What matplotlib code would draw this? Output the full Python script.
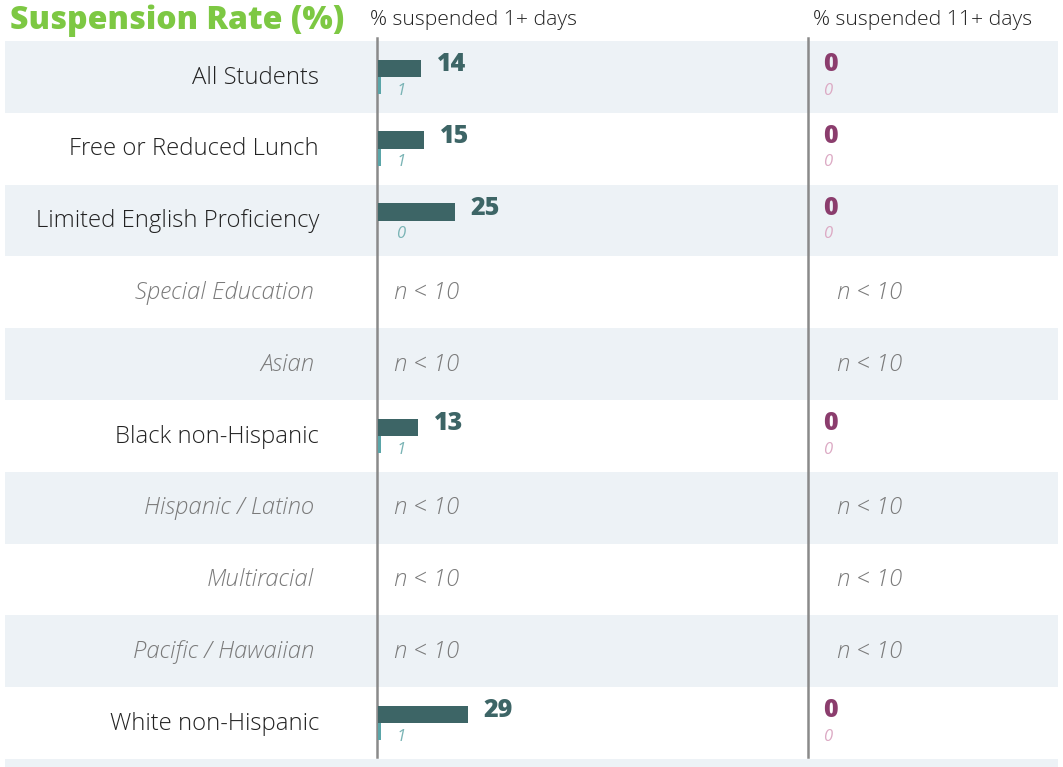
import matplotlib
matplotlib.use("Agg")
import matplotlib.pyplot as plt

# data
categories = ["All Students", "Free or Reduced Lunch", "Limited English Proficiency",
              "Special Education", "Asian", "Black non-Hispanic", "Hispanic / Latino",
              "Multiracial", "Pacific / Hawaiian", "White non-Hispanic"]
rate_1plus = [14, 15, 25, None, None, 13, None, None, None, 29]
small_1plus = [1, 1, 0, None, None, 1, None, None, None, 1]
rate_11plus = [0, 0, 0, None, None, 0, None, None, None, 0]
small_11plus = [0, 0, 0, None, None, 0, None, None, None, 0]

FONT = "Open Sans"
W, H = 1063, 767
TOP = 41          # px where the table starts
ROW_H = 71.8      # px per row
PX_PER_UNIT = 3.08
LABEL_FS = 17.2

BAND = "#edf2f6"
DARK = "#3d6566"
TEAL = "#5aa5a8"
TEAL_TXT = "#7ab4b5"
PURPLE = "#8b3d6d"
PINK = "#dcaac4"
GRAY_TXT = "#7a7a7a"

fig = plt.figure(figsize=(W / 100, H / 100), dpi=100)
fig.patch.set_facecolor("white")

ax_h = (H - TOP) / H
ylim = (-0.5 + (H - TOP) / ROW_H, -0.5)

# background bands + labels
ax_bg = fig.add_axes([0, 0, 1, ax_h])
ax_bg.set_xlim(0, W)
ax_bg.set_ylim(*ylim)
ax_bg.axis("off")
band_rows = [r for r in range(len(categories) + 1) if r % 2 == 0]
ax_bg.barh(band_rows, width=W - 10, left=5, height=1, color=BAND, zorder=0)

for i, cat in enumerate(categories):
    if rate_1plus[i] is None:
        ax_bg.text(314, i + 0.01, cat, ha="right", va="center", fontsize=LABEL_FS,
                   family=FONT, weight=300, style="italic", color=GRAY_TXT)
    else:
        ax_bg.text(319, i + 0.01, cat, ha="right", va="center", fontsize=LABEL_FS,
                   family=FONT, weight=300, color="#222222")

# vertical divider lines
for xline in (377, 808):
    ax_bg.axvline(xline, ymin=(H - 757) / (H - TOP), ymax=(H - 38) / (H - TOP),
                  color="#8a8a8a", lw=1.8, clip_on=False, zorder=3)

# left column: % suspended 1+ days
ax1 = fig.add_axes([378.3 / W, 0, 420 / W, ax_h])
ax1.set_xlim(0, 420 / PX_PER_UNIT)
ax1.set_ylim(*ylim)
ax1.axis("off")
ax1.patch.set_alpha(0)

# right column: % suspended 11+ days
ax2 = fig.add_axes([808 / W, 0, 250 / W, ax_h])
ax2.set_xlim(0, 250 / PX_PER_UNIT)
ax2.set_ylim(*ylim)
ax2.axis("off")
ax2.patch.set_alpha(0)


def draw_col(ax, vals, smalls, big_col, small_col, small_txt, small_x, na_x):
    for i, (v, s) in enumerate(zip(vals, smalls)):
        if v is None:
            ax.text(na_x, i + 0.01, "n < 10", ha="left", va="center", fontsize=LABEL_FS,
                    family=FONT, weight=300, style="italic", color=GRAY_TXT)
            continue
        ax.barh(i - 0.12, v, height=0.24, color=DARK, zorder=2)
        ax.barh(i + 0.12, s, height=0.24, color=small_col, zorder=2)
        ax.text(v + 5.0, i - 0.17, str(v), ha="left", va="center",
                fontsize=18, family=FONT, weight=800, color=big_col)
        ax.text(small_x, i + 0.19, str(s), ha="center", va="center",
                fontsize=12, family=FONT, style="italic", color=small_txt)


draw_col(ax1, rate_1plus, small_1plus, DARK, TEAL, TEAL_TXT, 7.3, 5.2)
draw_col(ax2, rate_11plus, small_11plus, PURPLE, TEAL, PINK, 6.5, 9.4)

# headers
fig.text(10 / W, 1 - 21 / H, "Suspension Rate (%)", ha="left", va="center",
         fontsize=23, family=FONT, weight=800, color="#7dc843")
fig.text(370 / W, 1 - 20 / H, "% suspended 1+ days", ha="left", va="center",
         fontsize=15.2, family=FONT, weight=300, color="#222222")
fig.text(813 / W, 1 - 20 / H, "% suspended 11+ days", ha="left", va="center",
         fontsize=15.2, family=FONT, weight=300, color="#222222")

fig.savefig("out.png", dpi=100)
